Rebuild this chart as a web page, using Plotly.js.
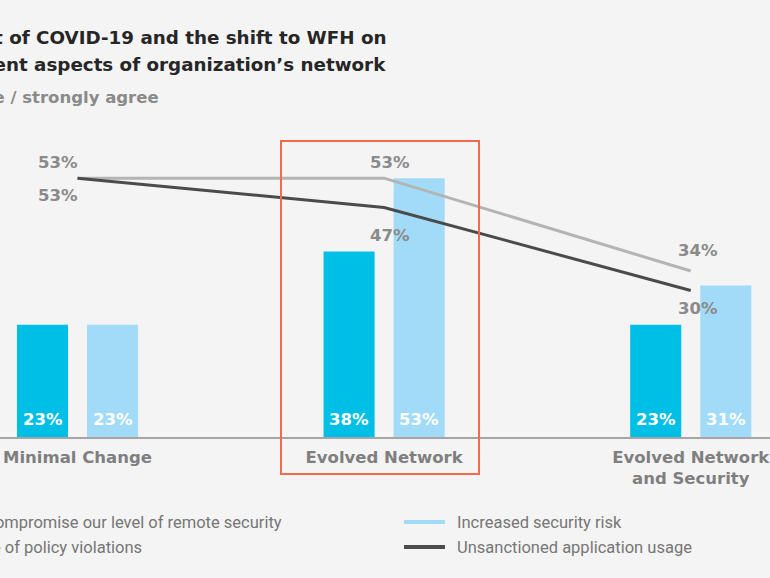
<!DOCTYPE html>
<html>
<head>
<meta charset="utf-8">
<script src="https://cdn.plot.ly/plotly-3.0.1.min.js"></script>
<style>
  html, body { margin: 0; padding: 0; background: #f4f4f4; }
  #chart { width: 770px; height: 578px; }
</style>
</head>
<body>
<div id="chart"></div>
<script>
// Network archetypes along the x axis
const categories = ['Minimal Change', 'Evolved Network', 'Evolved Network<br>and Security'];

// Bar series (percent of respondents)
const noCompromise = [23, 38, 23];
const securityRisk = [23, 53, 31];

// Line series (percent of respondents)
const policyViolations = [53, 53, 34];
const unsanctionedApps = [53, 47, 30];

// Series names shown in the legend
const seriesNames = [
  'Did not compromise our level of remote security',
  'Increase of policy violations',
  'Increased security risk',
  'Unsanctioned application usage'
];

const titleLines = [
  'Impact of COVID-19 and the shift to WFH on',
  'different aspects of organization\u2019s network',
  '% agree / strongly agree'
];

// Styling
const C = {
  bg: '#f4f4f4',
  barDark: '#00bfe7',
  barLight: '#a2dbf8',
  lineLight: '#b4b4b4',
  lineDark: '#4b4b4b',
  label: '#8a8a8a',
  axis: '#a6a6a6',
  text: '#262626',
  tick: '#7f7f7f',
  muted: '#767676',
  box: '#f26b4b'
};
const geoFont = '"DejaVu Sans", "Open Sans", sans-serif';
const bodyFont = 'Roboto, "Noto Sans", sans-serif';

const idx = categories.map((_, i) => i);
const pct = v => v + '%';

const traces = [
  {
    type: 'bar', x: idx, y: noCompromise, name: seriesNames[0],
    marker: { color: C.barDark }, hoverinfo: 'skip', showlegend: false
  },
  {
    type: 'bar', x: idx, y: securityRisk, name: seriesNames[2],
    marker: { color: C.barLight }, hoverinfo: 'skip', showlegend: false
  },
  {
    type: 'scatter', mode: 'lines', x: idx, y: policyViolations, name: seriesNames[1],
    line: { color: C.lineLight, width: 3 }, hoverinfo: 'skip', showlegend: false
  },
  {
    type: 'scatter', mode: 'lines', x: idx, y: unsanctionedApps, name: seriesNames[3],
    line: { color: C.lineDark, width: 3 }, hoverinfo: 'skip', showlegend: false
  }
];

const annotations = [];

// White value labels near the foot of each bar (bar half-slot = 35px)
const barLabelFont = { family: geoFont, size: 16.5, color: '#ffffff', weight: 700 };
[[noCompromise, -35], [securityRisk, 35]].forEach(([vals, dx]) => {
  idx.forEach(i => annotations.push({
    xref: 'x', yref: 'y', x: i, y: 0, text: pct(vals[i]), showarrow: false,
    xshift: dx, yshift: 18, yanchor: 'middle', font: barLabelFont
  }));
});

// Value labels for the two lines: light-grey labels sit above, dark ones below
const lightShift = [[-20, 16], [6, 16], [7, 20]];
const darkShift = [[-20, -17], [6, -28], [7, -18]];
const valueFont = { family: geoFont, size: 16.5, color: C.label, weight: 700 };
idx.forEach(i => {
  annotations.push({
    xref: 'x', yref: 'y', x: i, y: policyViolations[i], text: pct(policyViolations[i]),
    showarrow: false, xshift: lightShift[i][0], yshift: lightShift[i][1], font: valueFont
  });
  annotations.push({
    xref: 'x', yref: 'y', x: i, y: unsanctionedApps[i], text: pct(unsanctionedApps[i]),
    showarrow: false, xshift: darkShift[i][0], yshift: darkShift[i][1], font: valueFont
  });
});

// Title block
[
  { t: titleLines[0], x: -70, y: 1.365, size: 18.3, color: C.text },
  { t: titleLines[1], x: -64, y: 1.273, size: 18.3, color: C.text },
  { t: titleLines[2], x: -73, y: 1.160, size: 16.5, color: C.label }
].forEach(o => annotations.push({
  xref: 'paper', yref: 'paper', x: o.x / 770, y: o.y, xanchor: 'left', yanchor: 'middle',
  text: o.t, showarrow: false,
  font: { family: geoFont, size: o.size, color: o.color, weight: 700 }
}));

// Legend: two columns of swatch + label
const legendFont = { family: bodyFont, size: 16.5, color: C.muted };
const legendRows = [(437 - 522) / 293, (437 - 547) / 293];
const leftTextX = [-72 / 770, -64 / 770];
const rightSwatchX = [404 / 770, 445 / 770];
const rightTextX = 455 / 770;
const legendItems = [
  { name: seriesNames[0], x: leftTextX[0], row: 0 },
  { name: seriesNames[1], x: leftTextX[1], row: 1 },
  { name: seriesNames[2], x: rightTextX, row: 0, swatch: C.barLight },
  { name: seriesNames[3], x: rightTextX, row: 1, swatch: C.lineDark }
];
const shapes = [];
legendItems.forEach(it => {
  annotations.push({
    xref: 'paper', yref: 'paper', x: it.x, y: legendRows[it.row],
    xanchor: 'left', yanchor: 'middle', text: it.name, showarrow: false, font: legendFont
  });
  if (it.swatch) {
    shapes.push({
      type: 'line', xref: 'paper', yref: 'paper',
      x0: rightSwatchX[0], x1: rightSwatchX[1], y0: legendRows[it.row], y1: legendRows[it.row],
      line: { color: it.swatch, width: 4 }
    });
  }
});

// Highlight frame around the middle group
shapes.push({
  type: 'rect', xref: 'paper', yref: 'paper',
  x0: 281 / 770, x1: 479 / 770, y0: (437 - 474) / 293, y1: (437 - 141) / 293,
  line: { color: C.box, width: 2 }, fillcolor: 'rgba(0,0,0,0)', layer: 'above'
});

const layout = {
  width: 770, height: 578,
  margin: { l: 0, r: 0, t: 144, b: 141, autoexpand: false },
  paper_bgcolor: C.bg, plot_bgcolor: C.bg,
  barmode: 'group', bargap: 0.543, bargroupgap: 0.271,
  showlegend: false,
  xaxis: {
    type: 'linear', range: [-77.5 / 306.6, 2 + 79.25 / 306.6],
    tickmode: 'array', tickvals: idx, ticktext: categories,
    showgrid: false, zeroline: false, ticks: '',
    showline: true, linecolor: C.axis, linewidth: 2,
    tickfont: { family: geoFont, size: 16.5, color: C.tick, weight: 700 },
    ticklabelstandoff: 4, ticklabeloverflow: 'allow', fixedrange: true
  },
  yaxis: {
    range: [0, 60], visible: false, showgrid: false, zeroline: false, fixedrange: true
  },
  annotations: annotations,
  shapes: shapes
};

Plotly.newPlot('chart', traces, layout, { displayModeBar: false, staticPlot: true });
</script>
</body>
</html>
